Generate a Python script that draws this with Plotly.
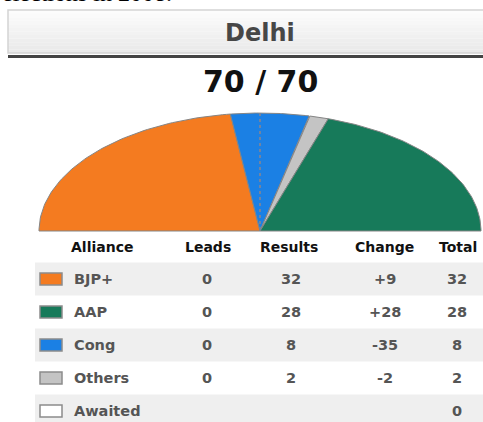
import numpy as np
import plotly.graph_objects as go

# ---------------- data ----------------
state = "Delhi"
declared_label = "70 / 70"
alliances = ["BJP+", "AAP", "Cong", "Others", "Awaited"]
leads = ["0", "0", "0", "0", ""]
results = [32, 28, 8, 2, None]
change = ["+9", "+28", "-35", "-2", ""]
total = [32, 28, 8, 2, 0]
colors = ["#f47b20", "#177a5a", "#1b80e4", "#c4c4c4", "#ffffff"]
pie_order = ["BJP+", "Cong", "Others", "AAP"]
headers = ["Alliance", "Leads", "Results", "Change", "Total"]

W, H = 483, 422
fig = go.Figure()

# ---------------- semi pie ----------------
cx, cy, rx, ry = 260, 231, 221, 118
seat_total = sum(results[alliances.index(a)] for a in pie_order)
ang = np.pi
for name in pie_order:
    i = alliances.index(name)
    span = np.pi * results[i] / seat_total
    a = np.linspace(ang, ang - span, 80)
    xs = np.concatenate([[cx], cx + rx * np.cos(a), [cx]])
    ys = np.concatenate([[cy], cy - ry * np.sin(a), [cy]])
    fig.add_trace(go.Scatter(x=xs, y=ys, fill="toself", fillcolor=colors[i],
                             mode="lines", line=dict(color="#858585", width=1),
                             hoverinfo="skip", showlegend=False))
    ang -= span

shapes = []
# dotted midline
shapes.append(dict(type="line", x0=cx, x1=cx, y0=cy - ry, y1=cy,
                   line=dict(color="#6f84a3", width=2, dash="dot"), layer="above"))

# ---------------- header box ----------------
n_strip = 12
y_top, y_bot = 10, 53
for k in range(n_strip):
    t = k / (n_strip - 1)
    c = int(252 - 18 * t)
    shapes.append(dict(type="rect", x0=8, x1=490,
                       y0=y_top + (y_bot - y_top) * k / n_strip,
                       y1=y_top + (y_bot - y_top) * (k + 1) / n_strip,
                       fillcolor=f"rgb({c},{c},{c})", line=dict(width=0), layer="below"))
shapes.append(dict(type="rect", x0=8, x1=490, y0=y_top, y1=y_bot,
                   line=dict(color="#d4d4d4", width=1.5), fillcolor="rgba(0,0,0,0)"))
shapes.append(dict(type="rect", x0=8, x1=490, y0=55, y1=58,
                   fillcolor="#444444", line=dict(width=0)))

annotations = []
annotations.append(dict(x=0, y=8.5, xref="x", yref="y", text="elections in 2008.",
                        showarrow=False, xanchor="left", yanchor="bottom",
                        font=dict(family="Liberation Serif", size=24, color="#000")))
annotations.append(dict(x=260, y=33, xref="x", yref="y", text=f"<b>{state}</b>",
                        showarrow=False, font=dict(family="DejaVu Sans", size=24, color="#474747")))
annotations.append(dict(x=260, y=81, xref="x", yref="y", text=f"<b>{declared_label}</b>",
                        showarrow=False, font=dict(family="DejaVu Sans", size=30, color="#111")))

# ---------------- table ----------------
col_x = [102, 208, 289, 384, 458]
header_y = 247
row_y0, row_h = 279, 33
for cx_, h in zip(col_x, headers):
    annotations.append(dict(x=cx_, y=header_y, xref="x", yref="y", text=f"<b>{h}</b>",
                            showarrow=False, font=dict(family="DejaVu Sans", size=14, color="#111")))

num_x = [207, 291, 385, 457]
for r, name in enumerate(alliances):
    yc = row_y0 + r * row_h
    if r % 2 == 0:
        shapes.append(dict(type="rect", x0=35, x1=490, y0=yc - 16.5, y1=yc + 16.5,
                           fillcolor="#efefef", line=dict(width=0), layer="below"))
    shapes.append(dict(type="rect", x0=40, x1=62, y0=yc - 6, y1=yc + 6,
                       fillcolor=colors[r], line=dict(color="#8c8c8c", width=1.5)))
    annotations.append(dict(x=72, y=yc, xref="x", yref="y", text=f"<b>{name}</b>",
                            showarrow=False, xanchor="left",
                            font=dict(family="DejaVu Sans", size=14.5, color="#555")))
    vals = [leads[r], "" if results[r] is None else str(results[r]), change[r], str(total[r])]
    for x_, v in zip(num_x, vals):
        if v == "":
            continue
        annotations.append(dict(x=x_, y=yc, xref="x", yref="y", text=f"<b>{v}</b>",
                                showarrow=False,
                                font=dict(family="DejaVu Sans", size=14.5, color="#555")))

fig.update_layout(
    width=W, height=H, margin=dict(l=0, r=0, t=0, b=0),
    paper_bgcolor="white", plot_bgcolor="white",
    xaxis=dict(range=[0, W], visible=False, fixedrange=True),
    yaxis=dict(range=[H, 0], visible=False, fixedrange=True),
    shapes=shapes, annotations=annotations, showlegend=False,
)
fig.write_html("out.html", config={"displayModeBar": False},
               post_script="document.body.style.margin='0px';document.body.style.overflow='hidden';")
